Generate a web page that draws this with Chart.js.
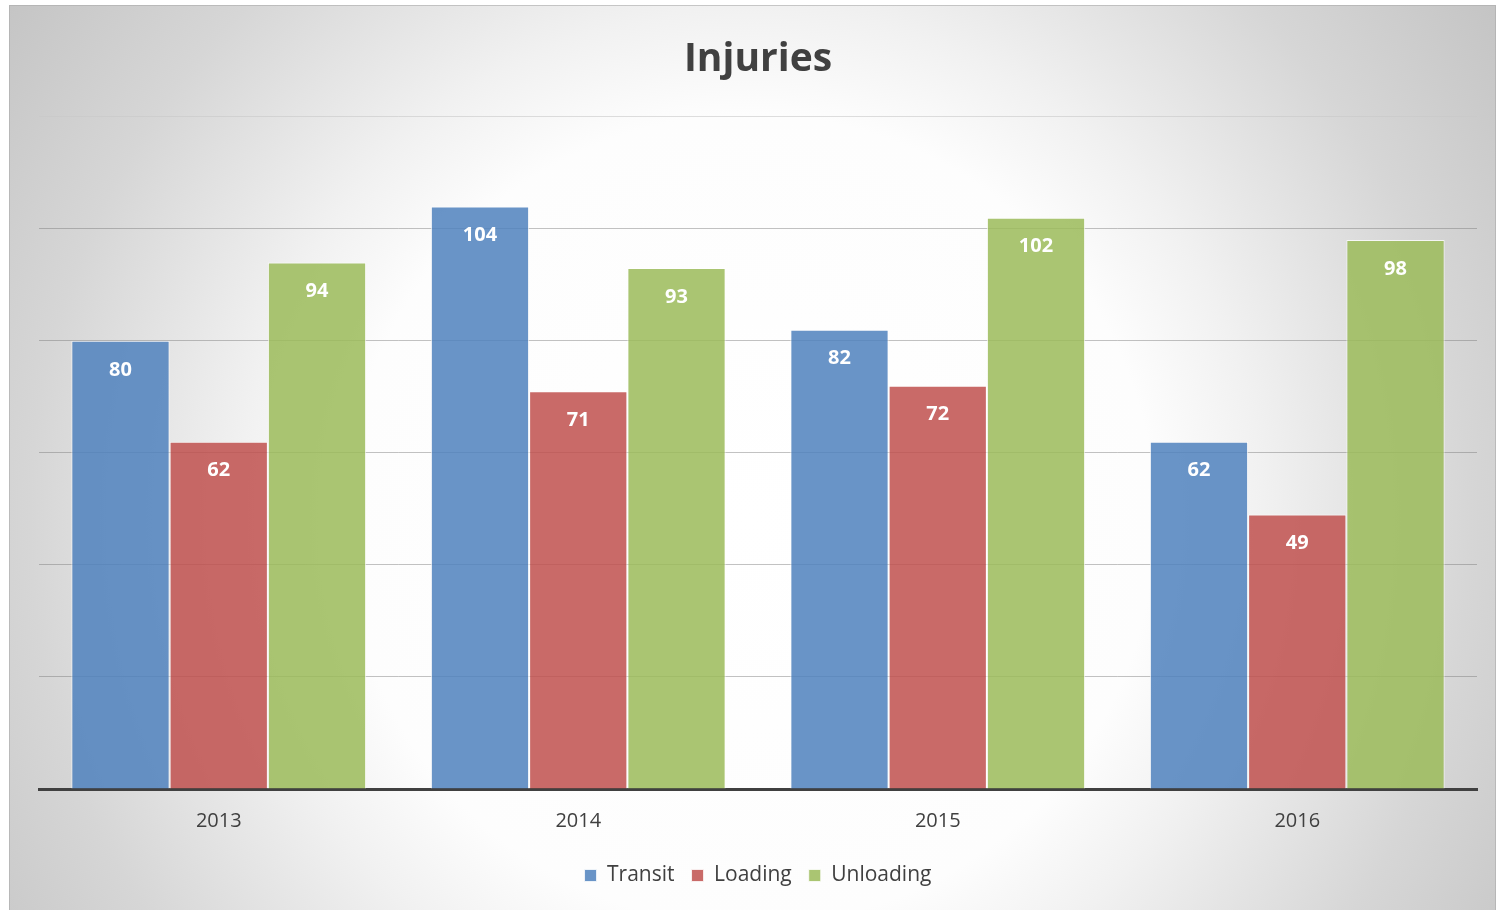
<!DOCTYPE html>
<html>
<head>
<meta charset="utf-8">
<script src="https://cdn.jsdelivr.net/npm/chart.js@4/dist/chart.umd.min.js"></script>
<style>
  html, body { margin: 0; padding: 0; background: #ffffff; }
  #wrap { position: absolute; left: 9px; top: 5px; width: 1487px; height: 905px; }
</style>
</head>
<body>
<div id="wrap"><canvas id="c" width="1487" height="905"></canvas></div>
<script>
const categories = ['2013', '2014', '2015', '2016'];
const seriesNames = ['Transit', 'Loading', 'Unloading'];
const transit = [80, 104, 82, 62];
const loading = [62, 71, 72, 49];
const unloading = [94, 93, 102, 98];
const yMax = 120;
const yStep = 20;

const FONT = "'Open Sans', sans-serif";
const TEXT = '#404040';

const bgPlugin = {
  id: 'bg',
  beforeDraw(chart) {
    const ctx = chart.ctx;
    const w = chart.width, h = chart.height;
    ctx.save();
    const cx = 741, cy = 515;
    const g = ctx.createRadialGradient(cx, cy, 0, cx, cy, 900);
    g.addColorStop(0, '#ffffff');
    g.addColorStop(0.45, '#fdfdfd');
    g.addColorStop(0.57, '#f1f1f1');
    g.addColorStop(0.8, '#d6d6d6');
    g.addColorStop(1, '#c5c5c5');
    ctx.fillStyle = g;
    ctx.fillRect(0, 0, w, h);
    ctx.strokeStyle = 'rgba(170,170,170,0.6)';
    ctx.lineWidth = 1;
    ctx.strokeRect(0.5, 0.5, w - 1, h + 5);
    ctx.restore();
  }
};

const labelPlugin = {
  id: 'barLabels',
  afterDatasetsDraw(chart) {
    const ctx = chart.ctx;
    ctx.save();
    ctx.fillStyle = '#ffffff';
    ctx.font = "bold 20px " + FONT;
    ctx.textAlign = 'center';
    ctx.textBaseline = 'middle';
    chart.data.datasets.forEach((ds, i) => {
      chart.getDatasetMeta(i).data.forEach((bar, j) => {
        ctx.fillText(String(ds.data[j]), bar.x, bar.y + 29);
      });
    });
    ctx.restore();
  }
};

new Chart(document.getElementById('c'), {
  type: 'bar',
  data: {
    labels: categories,
    datasets: [
      { label: seriesNames[0], data: transit, backgroundColor: 'rgba(79,129,189,0.85)', borderColor: 'rgba(255,255,255,0.75)', borderWidth: 1 },
      { label: seriesNames[1], data: loading, backgroundColor: 'rgba(192,80,77,0.85)', borderColor: 'rgba(255,255,255,0.75)', borderWidth: 1 },
      { label: seriesNames[2], data: unloading, backgroundColor: 'rgba(155,187,89,0.85)', borderColor: 'rgba(255,255,255,0.75)', borderWidth: 1 }
    ]
  },
  options: {
    responsive: false,
    animation: false,
    devicePixelRatio: 1,
    layout: { padding: { left: 30, right: 19, top: 0, bottom: 14 } },
    datasets: { bar: { categoryPercentage: 0.82, barPercentage: 1.0 } },
    plugins: {
      title: {
        display: true,
        text: 'Injuries',
        color: TEXT,
        font: { family: FONT, size: 39, weight: 'bold' },
        padding: { top: 31, bottom: 34 }
      },
      legend: {
        position: 'bottom',
        labels: {
          color: TEXT,
          font: { family: FONT, size: 21 },
          boxWidth: 12,
          boxHeight: 12,
          padding: 17
        }
      },
      tooltip: { enabled: false }
    },
    scales: {
      x: {
        grid: { display: false },
        border: { display: true, color: '#404040', width: 3 },
        ticks: { color: TEXT, font: { family: FONT, size: 20 }, padding: 12 },
        afterFit(scale) { scale.height = 59; }
      },
      y: {
        min: 0,
        max: yMax,
        ticks: { display: false, stepSize: yStep },
        grid: {
          drawTicks: false,
          color: (c) => c.tick && c.tick.value === yMax ? 'rgba(200,200,200,0.6)' : 'rgba(120,120,120,0.45)',
          lineWidth: 1
        },
        border: { display: false }
      }
    }
  },
  plugins: [bgPlugin, labelPlugin]
});
</script>
</body>
</html>
